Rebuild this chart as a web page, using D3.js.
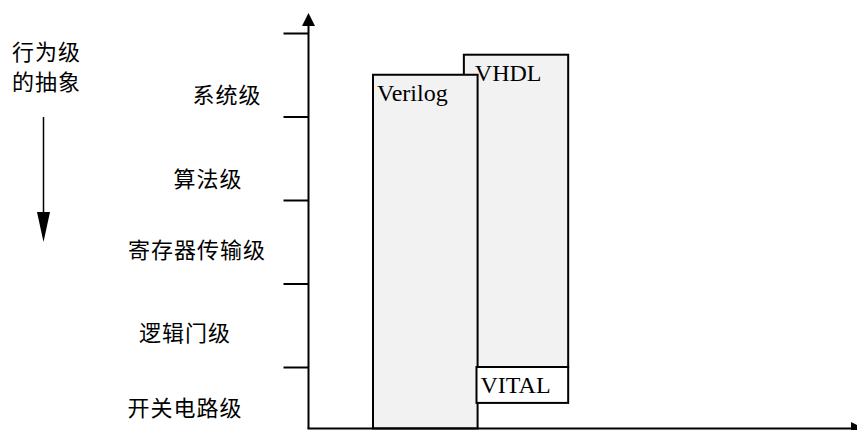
<!DOCTYPE html>
<html>
<head>
<meta charset="utf-8">
<script src="https://cdn.jsdelivr.net/npm/d3@7"></script>
<style>
  body { margin: 0; background: #fff; }
  svg { display: block; }
  .lang { font-family: "Liberation Serif", "Times New Roman", Times, "DejaVu Serif", serif; }
  .cjk { font-family: "Noto Sans CJK SC", "Noto Sans", sans-serif; }
</style>
</head>
<body>
<div id="chart"></div>
<script>
// abstraction levels, bottom to top
const levels = ["开关电路级", "逻辑门级", "寄存器传输级", "算法级", "系统级"];
const levelLabelPos = [0.5, 1.4, 2.4, 3.25, 4.25]; // where each label sits, in level units
const tickLevels = [1, 2, 3, 4, 5];

// language coverage boxes: x range and level range
const langNames = ["VHDL", "Verilog", "VITAL"];
const langX0 = [2.83, 1.175, 3.06];
const langX1 = [4.73, 3.08, 4.73];
const langLow = [1, 0.264, 0.57];
const langHigh = [4.74, 4.5, 1];
const langFill = ["#f2f2f2", "#f2f2f2", "#ffffff"];

const sideTitle = ["行为级", "的抽象"];

// layout
const W = 857, H = 430;
const labelCx = [185, 185, 197, 208, 227];
const nameDx = [11, 4, 4];

const svg = d3.select("#chart").append("svg")
    .attr("width", W)
    .attr("height", H);

const x = d3.scaleLinear().domain([0, 10]).range([308.5, 857.5]);
const y = d3.scaleLinear().domain([1, 5]).range([367, 33]);

const axisBottom = 0.264;
const axisTop = 5.24;

// boxes (VHDL first so Verilog sits on top of it)
langNames.forEach((name, i) => {
    svg.append("rect")
        .attr("x", x(langX0[i]))
        .attr("y", y(langHigh[i]))
        .attr("width", x(langX1[i]) - x(langX0[i]))
        .attr("height", y(langLow[i]) - y(langHigh[i]))
        .attr("fill", langFill[i])
        .attr("stroke", "#000")
        .attr("stroke-width", 2);
});

langNames.forEach((name, i) => {
    svg.append("text")
        .attr("class", "lang")
        .attr("x", x(langX0[i]) + nameDx[i])
        .attr("y", y(langHigh[i]) + 26)
        .attr("font-size", 24)
        .attr("fill", "#000")
        .text(name);
});

// y axis with arrow
const yAxis = d3.axisLeft(y)
    .tickValues(tickLevels)
    .tickSize(25)
    .tickFormat("");

const gy = svg.append("g")
    .attr("transform", `translate(${x(0)},0)`)
    .call(yAxis);
gy.select(".domain").remove();
gy.selectAll(".tick line").attr("stroke", "#000").attr("stroke-width", 2);

svg.append("line")
    .attr("x1", x(0)).attr("x2", x(0))
    .attr("y1", y(axisBottom)).attr("y2", y(axisTop) + 12)
    .attr("stroke", "#000").attr("stroke-width", 2);

svg.append("path")
    .attr("d", `M${x(0)},${y(axisTop)} L${x(0) - 6.5},${y(axisTop) + 13} L${x(0) + 6.5},${y(axisTop) + 13} Z`)
    .attr("fill", "#000");

// x axis with arrow (head runs off the right edge)
svg.append("line")
    .attr("x1", x(0) - 1).attr("x2", 852)
    .attr("y1", y(axisBottom)).attr("y2", y(axisBottom))
    .attr("stroke", "#000").attr("stroke-width", 2);

svg.append("path")
    .attr("d", `M864,${y(axisBottom)} L851,${y(axisBottom) - 6.5} L851,${y(axisBottom) + 6.5} Z`)
    .attr("fill", "#000");

// level labels
svg.selectAll(".level")
    .data(levels)
    .enter().append("text")
    .attr("class", "level cjk")
    .attr("x", (d, i) => labelCx[i])
    .attr("y", (d, i) => y(levelLabelPos[i]))
    .attr("dy", "0.35em")
    .attr("text-anchor", "middle")
    .attr("font-size", 22)
    .attr("letter-spacing", 1)
    .attr("fill", "#000")
    .text(d => d);

// side title and downward arrow
svg.selectAll(".side")
    .data(sideTitle)
    .enter().append("text")
    .attr("class", "side cjk")
    .attr("x", 12)
    .attr("y", (d, i) => 52 + i * 30)
    .attr("dy", "0.35em")
    .attr("font-size", 22)
    .attr("letter-spacing", 1)
    .attr("fill", "#000")
    .text(d => d);

svg.append("line")
    .attr("x1", 43.5).attr("x2", 43.5)
    .attr("y1", 117).attr("y2", 214)
    .attr("stroke", "#000").attr("stroke-width", 1.5);

svg.append("path")
    .attr("d", "M43.5,242 L37,212 L50,212 Z")
    .attr("fill", "#000");
</script>
</body>
</html>
